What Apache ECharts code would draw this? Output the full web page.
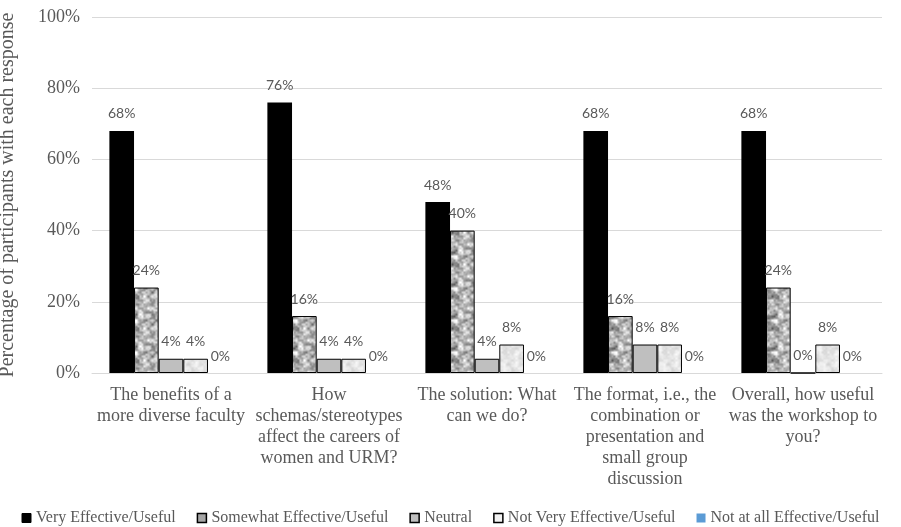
<!DOCTYPE html>
<html>
<head>
<meta charset="utf-8">
<script src="https://cdn.jsdelivr.net/npm/echarts@6/dist/echarts.min.js"></script>
<style>
  html, body { margin: 0; padding: 0; background: #fff; }
  #main { width: 901px; height: 527px; }
</style>
</head>
<body>
<div id="main"></div>
<script>
  // categories (questions)
  var categories = [
    'The benefits of a\nmore diverse faculty',
    'How\nschemas/stereotypes\naffect the careers of\nwomen and URM?',
    'The solution: What\ncan we do?',
    'The format, i.e., the\ncombination or\npresentation and\nsmall group\ndiscussion',
    'Overall, how useful\nwas the workshop to\nyou?'
  ];
  var seriesNames = [
    'Very Effective/Useful',
    'Somewhat Effective/Useful',
    'Neutral',
    'Not Very Effective/Useful',
    'Not at all Effective/Useful'
  ];
  var veryEffective = [68, 76, 48, 68, 68];
  var somewhatEffective = [24, 16, 40, 16, 24];
  var neutral = [4, 4, 4, 8, 0];
  var notVeryEffective = [4, 4, 8, 8, 8];
  var notAtAllEffective = [0, 0, 0, 0, 0];
  var yTicks = [0, 20, 40, 60, 80, 100];

  // blotchy texture for the patterned fills (decoration only, fixed hash)
  function hash(x, y, s) {
    var n = Math.sin(x * 12.9898 + y * 78.233 + s * 37.719) * 43758.5453;
    return n - Math.floor(n);
  }
  function smoothNoise(x, y, cell, cells, seed) {
    var gx = x / cell, gy = y / cell;
    var x0 = Math.floor(gx), y0 = Math.floor(gy);
    var fx = gx - x0, fy = gy - y0;
    fx = fx * fx * (3 - 2 * fx); fy = fy * fy * (3 - 2 * fy);
    function v(a, b) { return hash(((a % cells) + cells) % cells, ((b % cells) + cells) % cells, seed); }
    var a = v(x0, y0) * (1 - fx) + v(x0 + 1, y0) * fx;
    var b = v(x0, y0 + 1) * (1 - fx) + v(x0 + 1, y0 + 1) * fx;
    return a * (1 - fy) + b * fy;
  }
  function makeTexture(size, base, spread, seed) {
    var c = document.createElement('canvas');
    c.width = size; c.height = size;
    var ctx = c.getContext('2d');
    var img = ctx.createImageData(size, size);
    for (var y = 0; y < size; y++) {
      for (var x = 0; x < size; x++) {
        var v = smoothNoise(x, y, 4, size / 4, seed) * 0.65 +
                smoothNoise(x, y, 2, size / 2, seed + 5) * 0.35;
        var g = Math.max(0, Math.min(255, Math.round(base + (v - 0.5) * spread)));
        var i = (y * size + x) * 4;
        img.data[i] = g; img.data[i + 1] = g; img.data[i + 2] = g; img.data[i + 3] = 255;
      }
    }
    ctx.putImageData(img, 0, 0);
    return c;
  }
  var mottled = { image: makeTexture(32, 180, 190, 3), repeat: 'repeat' };
  var pale = { image: makeTexture(32, 228, 45, 7), repeat: 'repeat' };

  var labelStyle = {
    show: true,
    position: 'top',
    distance: 10,
    formatter: '{c}%',
    fontFamily: 'Lato',
    fontSize: 14,
    color: '#595959'
  };

  function bar(name, data, color, border) {
    return {
      name: name,
      type: 'bar',
      data: data,
      barGap: '0%',
      barCategoryGap: '22%',
      itemStyle: {
        color: color,
        borderColor: border ? '#000' : color,
        borderWidth: border ? 1 : 0
      },
      label: labelStyle
    };
  }

  var myChart = echarts.init(document.getElementById('main'));
  var option = {
    animation: false,
    grid: { left: 92, right: 19, top: 17, bottom: 154, outerBoundsMode: 'none', containLabel: false },
    legend: {
      top: 505,
      left: 'center',
      icon: 'rect',
      itemWidth: 9,
      itemHeight: 9,
      itemGap: 21,
      textStyle: { fontFamily: 'Liberation Serif', fontSize: 16, color: '#595959' },
      data: [
        { name: seriesNames[0], itemStyle: { color: '#000', borderColor: '#000', borderWidth: 1 } },
        { name: seriesNames[1], itemStyle: { color: '#a6a6a6', borderColor: '#000', borderWidth: 1.5 } },
        { name: seriesNames[2], itemStyle: { color: '#bfbfbf', borderColor: '#000', borderWidth: 1.5 } },
        { name: seriesNames[3], itemStyle: { color: '#f2f2f2', borderColor: '#000', borderWidth: 1.5 } },
        { name: seriesNames[4], itemStyle: { color: '#5b9bd5', borderWidth: 0 } }
      ]
    },
    xAxis: {
      type: 'category',
      data: categories,
      axisLine: { lineStyle: { color: '#d9d9d9' } },
      axisTick: { show: false },
      axisLabel: {
        interval: 0,
        margin: 12,
        fontFamily: 'Liberation Serif',
        fontSize: 18,
        lineHeight: 21,
        color: '#595959'
      }
    },
    yAxis: {
      type: 'value',
      min: yTicks[0],
      max: yTicks[yTicks.length - 1],
      interval: 20,
      name: 'Percentage of participants with each response',
      nameLocation: 'middle',
      nameGap: 74,
      nameTextStyle: { fontFamily: 'Liberation Serif', fontSize: 20, color: '#595959' },
      axisLabel: {
        formatter: '{value}%',
        margin: 12,
        fontFamily: 'Liberation Serif',
        fontSize: 18,
        color: '#595959'
      },
      splitLine: { lineStyle: { color: '#d9d9d9' } }
    },
    series: [
      bar(seriesNames[0], veryEffective, '#000', false),
      bar(seriesNames[1], somewhatEffective, mottled, true),
      bar(seriesNames[2], neutral, '#bfbfbf', true),
      bar(seriesNames[3], notVeryEffective, pale, true),
      bar(seriesNames[4], notAtAllEffective, '#5b9bd5', false)
    ]
  };
  myChart.setOption(option);
</script>
</body>
</html>
